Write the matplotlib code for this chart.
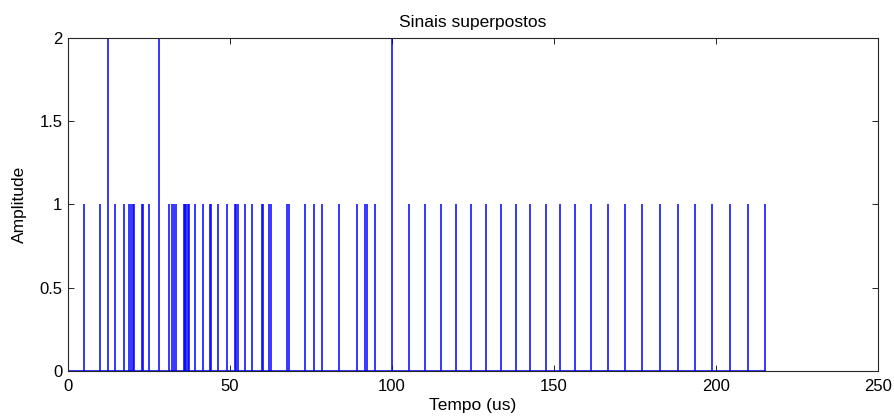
import numpy as np
import matplotlib
matplotlib.use("Agg")
import matplotlib.pyplot as plt

# pulse times (us)
tempos = [5.0, 9.8, 12.4, 14.4, 17.3, 18.9, 19.4, 20.0, 20.3, 22.8, 23.2, 25.0,
          28.0, 31.1, 32.2, 32.7, 33.4, 35.7, 36.0, 36.4, 37.0, 37.3, 39.3, 41.8,
          43.8, 44.2, 46.4, 49.0, 51.5, 51.9, 52.4, 54.5, 56.7, 59.8, 60.2, 61.9,
          62.5, 67.5, 68.1, 73.0, 75.9, 78.4, 83.7, 89.2, 91.8, 92.2, 94.7, 100.1,
          105.2, 110.3, 115.2, 119.8, 124.5, 129.1, 133.7, 138.3, 142.7, 147.4,
          151.9, 156.6, 161.4, 166.6, 171.8, 177.1, 182.7, 188.2, 193.4, 198.9,
          204.4, 209.9, 215.1]
duplos = [12.4, 28.0, 100.1]
amplitudes = [2 if t in duplos else 1 for t in tempos]

xticks = [0, 50, 100, 150, 200, 250]
yticks = [0, 0.5, 1, 1.5, 2]
ylabels = ["0", "0.5", "1", "1.5", "2"]

plt.rcParams['font.family'] = ['Liberation Sans', 'DejaVu Sans']

fig = plt.figure(figsize=(8.95, 4.2), dpi=100)
ax = fig.add_axes([0.076, 0.1167, 0.905, 0.793])

ax.vlines(tempos, 0, amplitudes, color='blue', linewidth=1.1)
ax.plot([0, tempos[-1]], [0, 0], color='blue', linewidth=1.1)

ax.set_xlim(0, 250)
ax.set_ylim(0, 2)
ax.set_xticks(xticks)
ax.set_yticks(yticks)
ax.set_yticklabels(ylabels)
ax.tick_params(direction='in', top=True, right=True, length=4, width=0.6,
               labelsize=12)
ax.tick_params(axis='x', pad=6)
ax.tick_params(axis='y', pad=4)
for s in ax.spines.values():
    s.set_linewidth(0.8)
    s.set_color('#262626')

ax.set_title("Sinais superpostos", fontsize=12.5, pad=8)
ax.set_xlabel("Tempo (us)", fontsize=12.5, labelpad=3)
ax.set_ylabel("Amplitude", fontsize=12.5, labelpad=9)

fig.savefig("out.png", dpi=100)
